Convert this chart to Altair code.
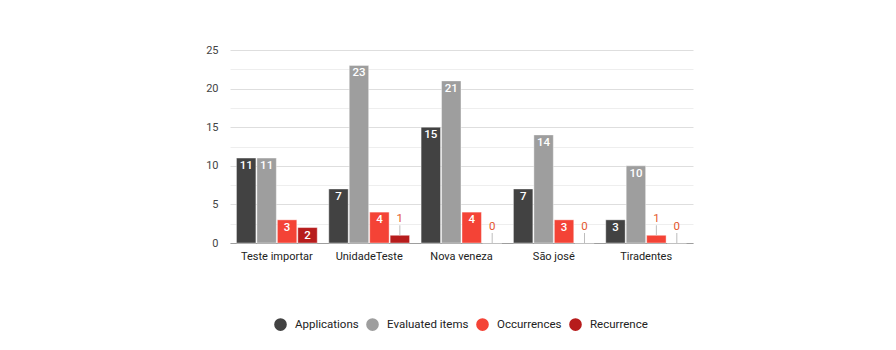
import altair as alt
import pandas as pd

categories = ["Teste importar", "UnidadeTeste", "Nova veneza", "São josé", "Tiradentes"]
series = ["Applications", "Evaluated items", "Occurrences", "Recurrence"]
applications = [11, 7, 15, 7, 3]
evaluated = [11, 23, 21, 14, 10]
occurrences = [3, 4, 4, 3, 1]
recurrence = [2, 1, 0, 0, 0]
colors = ["#424242", "#9e9e9e", "#f44336", "#b71c1c"]
y_ticks = [0, 2.5, 5, 7.5, 10, 12.5, 15, 17.5, 20, 22.5, 25]

rows = []
for s, vals in zip(series, [applications, evaluated, occurrences, recurrence]):
    for c, v in zip(categories, vals):
        rows.append({"category": c, "series": s, "value": v})
df = pd.DataFrame(rows)

FONT = "Roboto"

x = alt.X("category:N", sort=categories, title=None,
          scale=alt.Scale(paddingInner=0.125, paddingOuter=0.07),
          axis=alt.Axis(labelAngle=0, ticks=False, labelPadding=7, labelFontSize=11,
                        labelColor="#222222", domainColor="#9e9e9e", labelFont=FONT))
xo = alt.XOffset("series:N", sort=series, scale=alt.Scale(paddingInner=0.05))
y = alt.Y("value:Q", title=None,
          scale=alt.Scale(domain=[0, 25], nice=False),
          axis=alt.Axis(values=y_ticks, domain=False, ticks=False, labelPadding=12,
                        labelFontSize=11, labelColor="#444444", labelFont=FONT,
                        labelExpr="datum.value % 5 === 0 ? datum.label : ''",
                        gridColor={"condition": {"test": "datum.value % 5 === 0", "value": "#dedede"},
                                   "value": "#eeeeee"}))
color = alt.Color("series:N", sort=series,
                  scale=alt.Scale(domain=series, range=colors),
                  legend=alt.Legend(title=None, orient="none", direction="horizontal",
                                    legendX=44, legendY=268, symbolType="circle",
                                    symbolSize=160, symbolStrokeWidth=0, labelFontSize=11.5,
                                    labelColor="#222222", labelFont=FONT, labelOffset=8,
                                    columnPadding=7))

base = alt.Chart(df)

bars = base.mark_bar(stroke="white", strokeOpacity=0.4, strokeWidth=1).encode(
    x=x, xOffset=xo, y=y, color=color)

inside = base.transform_filter("datum.value >= 2").mark_text(
    baseline="top", dy=2, color="white", font=FONT, fontSize=11.5, fontWeight=500).encode(
    x=x, xOffset=xo, y=y, text="value:Q")

leaders = base.transform_filter("datum.value < 2").mark_rule(
    color="#bdbdbd", strokeWidth=1, y2Offset=-10).encode(
    x=x, xOffset=xo, y=y, y2="value:Q")

outside = base.transform_filter("datum.value < 2").mark_text(
    baseline="bottom", dy=-11, color="#e4572e", font=FONT, fontSize=11.5).encode(
    x=x, xOffset=xo, y=y, text="value:Q")

chart = alt.layer(bars, leaders, inside, outside).properties(
    width=463, height=193,
    autosize=alt.AutoSizeParams(type="none"),
    padding={"left": 230, "top": 50, "right": 203, "bottom": 107},
).configure(font=FONT).configure_view(strokeWidth=0, stroke="transparent")

chart.save("out.html", embed_options={"renderer": "svg", "actions": False})
